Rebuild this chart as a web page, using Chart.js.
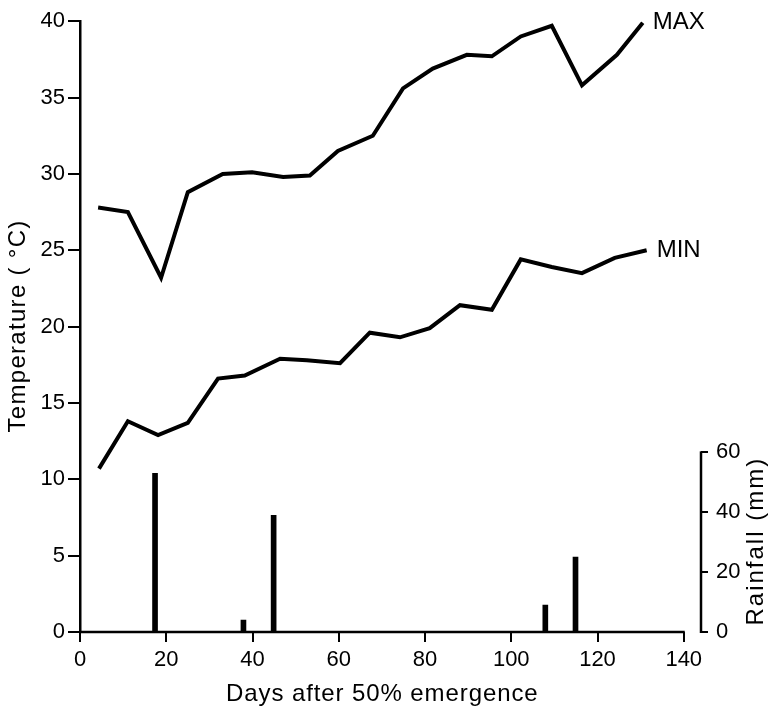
<!DOCTYPE html>
<html>
<head>
<meta charset="utf-8">
<script src="https://cdn.jsdelivr.net/npm/chart.js@4/dist/chart.umd.min.js"></script>
<style>
  html, body { margin: 0; padding: 0; background: #fff; }
  canvas { display: block; }
</style>
</head>
<body>
<canvas id="myChart" width="772" height="710"></canvas>
<script>
'use strict';

// daily max / min temperature, weekly readings
let maxDays = [4.2, 11.1, 18.8, 25.0, 33.1, 39.9, 47.1, 53.3, 59.8, 67.9, 74.9, 81.8, 89.7, 95.5, 102.2, 109.4, 116.4, 124.5, 130.5];
let maxTemp = [27.8, 27.5, 23.2, 28.8, 30.0, 30.1, 29.8, 29.9, 31.5, 32.5, 35.6, 36.9, 37.8, 37.7, 39.0, 39.7, 35.8, 37.8, 39.9];

let minDays = [4.4, 11.1, 18.1, 25.0, 32.0, 38.2, 46.4, 52.6, 60.3, 67.2, 74.2, 81.1, 88.1, 95.5, 102.2, 109.4, 116.4, 124.0, 131.4];
let minTemp = [10.7, 13.8, 12.9, 13.7, 16.6, 16.8, 17.9, 17.8, 17.6, 19.6, 19.3, 19.9, 21.4, 21.1, 24.4, 23.9, 23.5, 24.5, 25.0];

// rainfall events (mm)
let rainDays = [17.4, 37.9, 44.9, 107.9, 114.9];
let rainfall = [53, 4, 39, 9, 25];

let dayTicks = [0, 20, 40, 60, 80, 100, 120, 140];
let tempTicks = [0, 5, 10, 15, 20, 25, 30, 35, 40];
let rainTicks = [0, 20, 40, 60];

const FONT = "'Liberation Sans', Arial, Helvetica, sans-serif";
Chart.defaults.font.family = FONT;
Chart.defaults.color = '#000';

function toPoints(xs, ys) {
  let pts = [];
  for (let i = 0; i < xs.length; i++) {
    pts.push({ x: xs[i], y: ys[i] });
  }
  return pts;
}

function setTicks(values) {
  return function (scale) {
    scale.ticks = values.map(v => ({ value: v }));
  };
}

function drawTitle(ctx, text, cx, cy, angle, spacing) {
  ctx.save();
  ctx.letterSpacing = spacing + 'px';
  ctx.translate(cx, cy);
  ctx.rotate(angle);
  ctx.textAlign = 'center';
  ctx.textBaseline = 'middle';
  ctx.fillText(text, spacing / 2, 0);
  ctx.restore();
}

// axis pieces that do not span the whole chart area, plus labels
const decorations = {
  id: 'decorations',
  afterDraw(chart) {
    const ctx = chart.ctx;
    const x = chart.scales.x;
    const y = chart.scales.y;
    const y2 = chart.scales.y2;
    const base = y.getPixelForValue(0);

    ctx.save();
    ctx.strokeStyle = '#000';
    ctx.fillStyle = '#000';
    ctx.lineWidth = 2.5;
    ctx.lineCap = 'butt';

    // x axis, 0 to 140 days
    ctx.beginPath();
    ctx.moveTo(x.getPixelForValue(0) - 1, base);
    ctx.lineTo(x.getPixelForValue(dayTicks[dayTicks.length - 1]) + 1, base);
    ctx.stroke();

    // rainfall axis, 0 to 60 mm
    let rx = y2.left;
    let rTop = y2.getPixelForValue(rainTicks[rainTicks.length - 1]);
    let rBottom = y2.getPixelForValue(0);
    ctx.beginPath();
    ctx.moveTo(rx, rBottom + 1);
    ctx.lineTo(rx, rTop - 1);
    ctx.stroke();

    ctx.font = '24px ' + FONT;
    ctx.textBaseline = 'middle';
    ctx.textAlign = 'left';

    // series labels beside the last point
    let labels = ['MAX', 'MIN'];
    for (let i = 0; i < labels.length; i++) {
      let pts = chart.getDatasetMeta(i).data;
      let last = pts[pts.length - 1];
      ctx.fillText(labels[i], last.x + 10, last.y);
    }

    // axis titles
    let xMid = (x.getPixelForValue(0) + x.getPixelForValue(dayTicks[dayTicks.length - 1])) / 2;
    drawTitle(ctx, 'Days after 50% emergence', xMid, 694, 0, 0.9);
    drawTitle(ctx, 'Temperature ( °C)', 18, (y.top + y.bottom) / 2, -Math.PI / 2, 1.3);
    drawTitle(ctx, 'Rainfall (mm)', 756, (rTop + rBottom) / 2, -Math.PI / 2, 2);
    ctx.restore();
  },
};

const config = {
  type: 'line',
  data: {
    datasets: [
      {
        label: 'MAX',
        data: toPoints(maxDays, maxTemp),
        yAxisID: 'y',
        borderColor: '#000',
        borderWidth: 4,
        pointRadius: 0,
        tension: 0,
      },
      {
        label: 'MIN',
        data: toPoints(minDays, minTemp),
        yAxisID: 'y',
        borderColor: '#000',
        borderWidth: 4,
        pointRadius: 0,
        tension: 0,
      },
      {
        type: 'bar',
        label: 'Rainfall',
        data: toPoints(rainDays, rainfall),
        yAxisID: 'y2',
        backgroundColor: '#000',
        borderWidth: 0,
        barThickness: 5,
      },
    ],
  },
  options: {
    responsive: false,
    animation: false,
    devicePixelRatio: 1,
    layout: { padding: { top: 20, left: 0, right: 0, bottom: 0 } },
    plugins: {
      legend: { display: false },
      tooltip: { enabled: false },
    },
    scales: {
      x: {
        type: 'linear',
        min: 0,
        max: 144,
        offset: false,
        afterBuildTicks: setTicks(dayTicks),
        afterFit: s => { s.height = 78; },
        border: { display: false },
        grid: {
          offset: false,
          drawOnChartArea: false,
          drawTicks: true,
          tickLength: 10,
          color: '#000',
          lineWidth: 2,
        },
        ticks: {
          autoSkip: false,
          maxRotation: 0,
          padding: 5,
          font: { size: 22 },
        },
      },
      y: {
        position: 'left',
        min: 0,
        max: 40,
        afterBuildTicks: setTicks(tempTicks),
        afterFit: s => { s.width = 80; },
        border: { display: true, color: '#000', width: 2.5 },
        grid: {
          drawOnChartArea: false,
          tickLength: 12,
          color: '#000',
          lineWidth: 2,
        },
        ticks: { padding: 3, font: { size: 22 } },
      },
      y2: {
        position: 'right',
        min: 0,
        max: 204,
        afterBuildTicks: setTicks(rainTicks),
        afterFit: s => { s.width = 71; },
        border: { display: false },
        grid: {
          drawOnChartArea: false,
          tickLength: 7,
          color: '#000',
          lineWidth: 2,
        },
        ticks: { padding: 8, font: { size: 22 } },
      },
    },
  },
  plugins: [decorations],
};

let chartCanvas = document.getElementById('myChart').getContext('2d');
const myChart = new Chart(chartCanvas, config);
</script>
</body>
</html>
